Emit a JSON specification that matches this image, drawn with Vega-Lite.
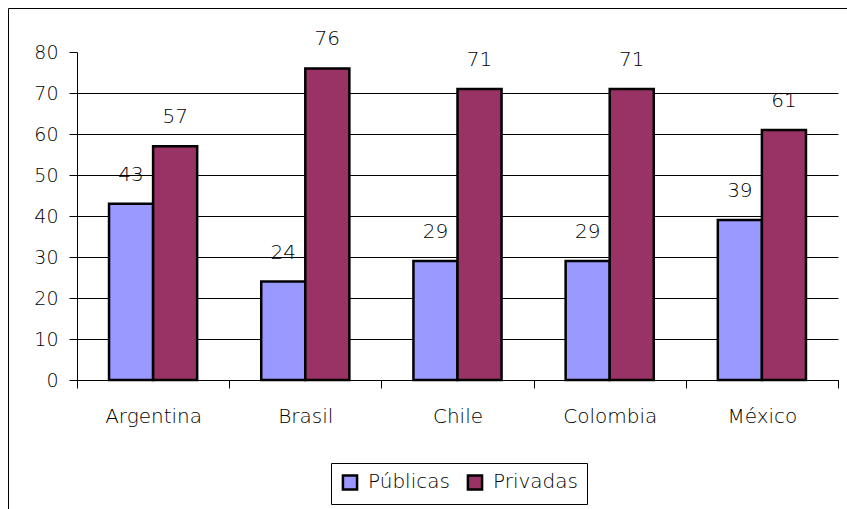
{
  "$schema": "https://vega.github.io/schema/vega-lite/v6.json",
  "width": 840,
  "height": 502,
  "autosize": {"type": "none"},
  "padding": {"left": 8, "top": 8, "right": -1, "bottom": -1},
  "background": "#ffffff",
  "config": {
    "view": {"stroke": "#000000", "strokeWidth": 1},
    "font": "DejaVu Sans"
  },
  "data": {
    "values": [
      {"pais": "Argentina", "tipo": "Públicas", "valor": 43},
      {"pais": "Argentina", "tipo": "Privadas", "valor": 57},
      {"pais": "Brasil", "tipo": "Públicas", "valor": 24},
      {"pais": "Brasil", "tipo": "Privadas", "valor": 76},
      {"pais": "Chile", "tipo": "Públicas", "valor": 29},
      {"pais": "Chile", "tipo": "Privadas", "valor": 71},
      {"pais": "Colombia", "tipo": "Públicas", "valor": 29},
      {"pais": "Colombia", "tipo": "Privadas", "valor": 71},
      {"pais": "México", "tipo": "Públicas", "valor": 39},
      {"pais": "México", "tipo": "Privadas", "valor": 61}
    ]
  },
  "encoding": {
    "x": {
      "field": "pais",
      "type": "nominal",
      "sort": null,
      "scale": {"range": [69, 830], "paddingInner": 0, "paddingOuter": 0},
      "axis": {
        "title": null,
        "offset": -130,
        "labelAngle": 0,
        "tickBand": "extent",
        "tickSize": 8,
        "tickColor": "#000000",
        "domainColor": "#000000",
        "labelFont": "DejaVu Sans",
        "labelFontSize": 20,
        "labelFontWeight": 300,
        "labelColor": "#000000",
        "labelPadding": 18
      }
    },
    "xOffset": {
      "field": "tipo",
      "sort": ["Públicas", "Privadas"],
      "scale": {"paddingInner": 0, "paddingOuter": 0.727}
    },
    "y": {
      "field": "valor",
      "type": "quantitative",
      "scale": {"domain": [0, 80], "range": [372, 44], "nice": false},
      "axis": {
        "title": null,
        "offset": -69,
        "values": [0, 10, 20, 30, 40, 50, 60, 70, 80],
        "grid": true,
        "gridColor": "#000000",
        "gridOpacity": {"condition": {"test": "datum.value == 80", "value": 0}, "value": 1},
        "tickSize": 8,
        "tickColor": "#000000",
        "domainColor": "#000000",
        "labelFont": "DejaVu Sans",
        "labelFontSize": 19,
        "labelFontWeight": 300,
        "labelColor": "#000000",
        "labelPadding": 11
      }
    }
  },
  "layer": [
    {
      "mark": {"type": "bar", "stroke": "#000000", "strokeWidth": 2.5},
      "encoding": {
        "color": {
          "field": "tipo",
          "type": "nominal",
          "sort": ["Públicas", "Privadas"],
          "scale": {"domain": ["Públicas", "Privadas"], "range": ["#9999FF", "#993366"]},
          "legend": {
            "title": null,
            "orient": "none",
            "legendX": 323,
            "legendY": 455,
            "direction": "horizontal",
            "strokeColor": "#000000",
            "fillColor": "#ffffff",
            "padding": 9,
            "symbolType": "square",
            "symbolSize": 200,
            "symbolStrokeColor": "#000000",
            "symbolStrokeWidth": 2.5,
            "symbolOpacity": 1,
            "labelFont": "DejaVu Sans",
            "labelFontSize": 20,
            "labelFontWeight": 300,
            "labelColor": "#000000",
            "labelOffset": 8,
            "columnPadding": 12
          }
        }
      }
    },
    {
      "mark": {"type": "text", "dy": -29, "font": "DejaVu Sans", "fontSize": 20, "fontWeight": 300, "color": "#000000"},
      "encoding": {
        "text": {"field": "valor", "type": "quantitative"}
      }
    }
  ]
}
